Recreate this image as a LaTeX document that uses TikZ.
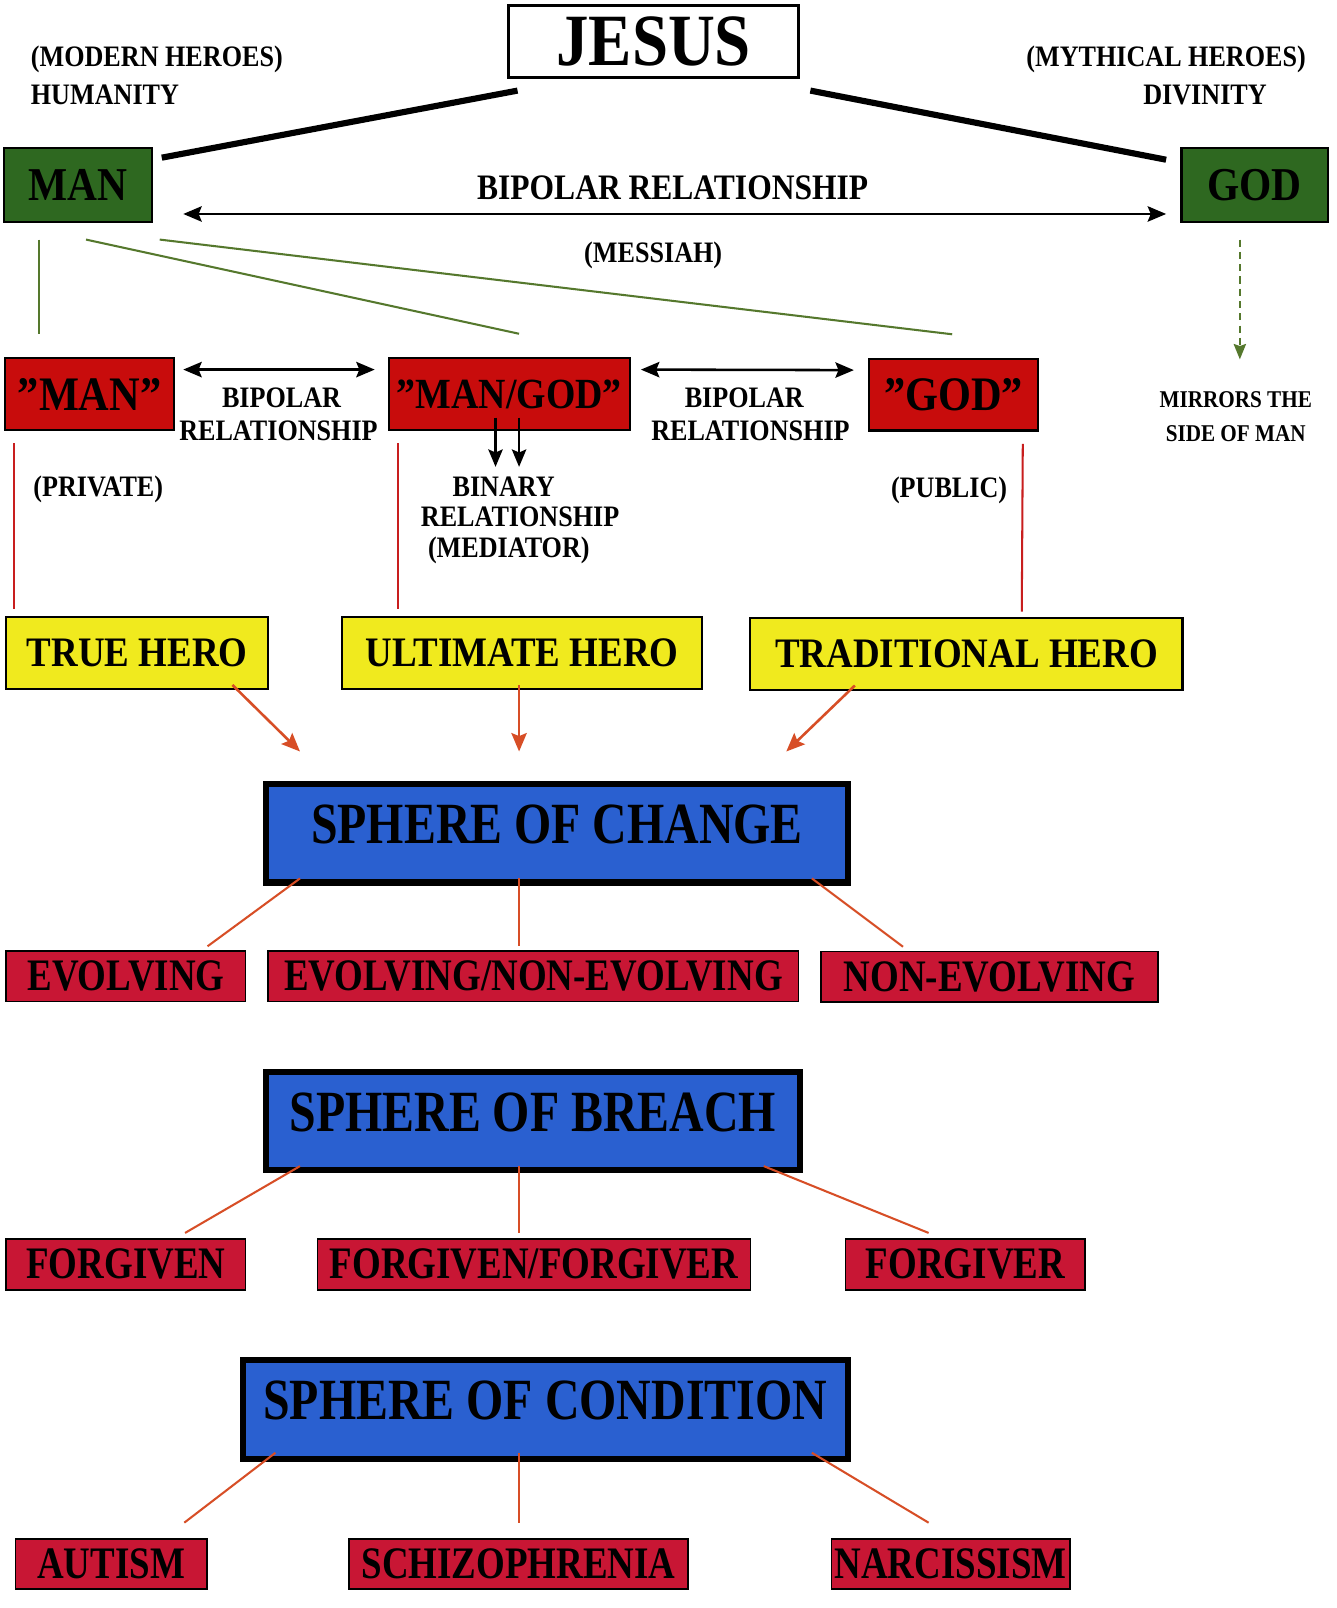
\documentclass[tikz,border=0pt]{standalone}
\usepackage{fontspec}
\setmainfont{Liberation Serif}
\newfontfamily\fS{Liberation Serif Bold}[FakeStretch=0.88]
\newfontfamily\fC{Liberation Serif Bold}[FakeStretch=0.82]
\usetikzlibrary{arrows.meta,calc}
\definecolor{mangreen}{RGB}{46,104,32}
\definecolor{boxred}{RGB}{200,12,12}
\definecolor{heroyellow}{RGB}{240,234,30}
\definecolor{sphereblue}{RGB}{42,96,208}
\definecolor{crimson}{RGB}{200,22,52}
\definecolor{linegreen}{RGB}{85,120,45}
\definecolor{linered}{RGB}{200,30,30}
\definecolor{lineorange}{RGB}{215,78,38}
\begin{document}
\begin{tikzpicture}[x=1pt,y=-1pt,
  gbox/.style={draw=black,line width=2pt,fill=mangreen,inner sep=0pt,minimum height=72pt,font=\fS\fontsize{46}{46}\selectfont},
  rbox/.style={draw=black,line width=2pt,fill=boxred,inner sep=0pt,minimum height=70pt,font=\fS\fontsize{47}{47}\selectfont},
  ybox/.style={draw=black,line width=2pt,fill=heroyellow,inner sep=0pt,minimum height=70pt,font=\fS\fontsize{41}{41}\selectfont},
  sbox/.style={draw=black,line width=6pt,fill=sphereblue,inner sep=0pt,minimum height=96pt,font=\fC\fontsize{57}{57}\selectfont,text height=40pt,text depth=20pt},
  cbox/.style={draw=black,line width=1.5pt,fill=crimson,inner sep=0pt,minimum height=49pt,font=\fC\fontsize{44}{44}\selectfont},
  lbl/.style={inner sep=0pt,anchor=base,font=\fS\fontsize{29}{29}\selectfont},
  slbl/.style={inner sep=0pt,anchor=base,font=\fS\fontsize{23.5}{23.5}\selectfont},
  blbl/.style={inner sep=0pt,anchor=base,font=\fS\fontsize{35}{35}\selectfont},
  dbl/.style={line width=2.5pt,{Stealth[length=18pt,width=15pt,inset=3pt]}-{Stealth[length=18pt,width=15pt,inset=3pt]}},
  down/.style={line width=2.5pt,-{Stealth[length=17pt,width=14pt,inset=3pt]}},
  gline/.style={draw=linegreen,line width=2pt},
  rline/.style={draw=linered,line width=2pt},
  oline/.style={draw=lineorange,line width=2pt},
  oarrow/.style={draw=lineorange,line width=2.5pt,-{Stealth[length=18pt,width=15pt,inset=3pt]}},
]
\useasboundingbox[fill=white] (0,0) rectangle (1305,1570.6);

% top
\node[draw=black,line width=3pt,fill=white,inner sep=0pt,minimum width=283pt,minimum height=71pt,font=\fS\fontsize{72}{72}\selectfont] (jesus) at (638.5,40.5) {JESUS};
\node[lbl,anchor=base west] (modern) at (30,64.6) {(MODERN HEROES)};
\node[lbl,anchor=base west] (humanity) at (30,101.6) {HUMANITY};
\node[lbl] (mythical) at (1139,64.6) {(MYTHICAL HEROES)};
\node[lbl] (divinity) at (1177,101.6) {DIVINITY};

\node[gbox,minimum width=144pt] (man) at (76,181) {MAN};
\node[gbox,minimum width=143pt] (god) at (1225.5,181) {GOD};
\node[blbl] (bipolartop) at (657,194.6) {BIPOLAR RELATIONSHIP};
\node[lbl] (messiah) at (638,256.6) {(MESSIAH)};

% second row
\node[rbox,minimum width=165pt] (rman) at (87.5,385) {”MAN”};
\node[rbox,minimum width=235pt,font=\fS\fontsize{42}{42}\selectfont] (rmangod) at (497.5,385) {”MAN/GOD”};
\node[rbox,minimum width=165pt] (rgod) at (931.5,385.5) {”GOD”};

\node[lbl] (bip1) at (275,397.6) {BIPOLAR};
\node[lbl] (rel1) at (272,430.6) {RELATIONSHIP};
\node[lbl] (bip2) at (727,397.6) {BIPOLAR};
\node[lbl] (rel2) at (733,430.6) {RELATIONSHIP};
\node[slbl] (mirrors) at (1207,397.8) {MIRRORS THE};
\node[slbl] (sideofman) at (1207,430.8) {SIDE OF MAN};

\node[lbl] (binary) at (492,484.6) {BINARY};
\node[lbl] (rel3) at (508,514.6) {RELATIONSHIP};
\node[lbl] (mediator) at (497,544.6) {(MEDIATOR)};
\node[lbl] (private) at (96,484.6) {(PRIVATE)};
\node[lbl] (public) at (927,485.6) {(PUBLIC)};

% heroes
\node[ybox,minimum width=256pt] (true) at (134,638) {TRUE HERO};
\node[ybox,minimum width=352pt] (ult) at (510,638) {ULTIMATE HERO};
\node[ybox,minimum width=422pt] (trad) at (944,638.5) {TRADITIONAL HERO};

% spheres
\node[sbox,minimum width=568pt] (soc) at (544,814) {SPHERE OF CHANGE};
\node[cbox,minimum width=234pt] (evo) at (123,953.5) {EVOLVING};
\node[cbox,minimum width=518pt] (evonon) at (521,953.5) {EVOLVING/NON-EVOLVING};
\node[cbox,minimum width=329pt] (nonevo) at (966.5,954) {NON-EVOLVING};

\node[sbox,minimum width=521pt] (sob) at (520.5,1095) {SPHERE OF BREACH};
\node[cbox,minimum width=234pt,minimum height=50pt] (forgiven) at (123,1235) {FORGIVEN};
\node[cbox,minimum width=423pt,minimum height=50pt] (ff) at (521.5,1235) {FORGIVEN/FORGIVER};
\node[cbox,minimum width=234pt,minimum height=50pt] (forgiver) at (943,1235) {FORGIVER};

\node[sbox,minimum width=591pt,minimum height=97pt] (socond) at (532.5,1376.5) {SPHERE OF CONDITION};
\node[cbox,minimum width=187pt] (autism) at (108.5,1527.5) {AUTISM};
\node[cbox,minimum width=331pt] (schizo) at (506.5,1527.5) {SCHIZOPHRENIA};
\node[cbox,minimum width=233pt] (narc) at (928.5,1527.5) {NARCISSISM};

% connectors: top
\draw[line width=6pt] ($(jesus.south west)+(10,11)$) -- ($(man.north east)+(9,10)$);
\draw[line width=6pt] ($(jesus.south east)+(10,11)$) -- ($(god.north west)+(-14,12)$);
\draw[dbl] ($(man.east)+(30,28)$) -- ($(god.west)+(-14,28)$);
\draw[draw=linegreen,line width=2pt,dash pattern=on 7pt off 5pt,-{Stealth[length=15pt,width=12pt,inset=2pt]},color=linegreen] ($(god.south)+(-14.5,16)$) -- ($(god.south)+(-14.5,133)$);
\draw[gline] ($(man.south west)+(35,16)$) -- ($(rman.north west)+(34,-23)$);
\draw[gline] ($(man.south west)+(81,16)$) -- ($(rmangod.north)+(9.5,-23)$);
\draw[gline] ($(man.south east)+(7,16)$) -- ($(rgod.north)+(-1.5,-23)$);

% second row connectors
\draw[dbl] ($(rman.north east)+(8,12)$) -- ($(rmangod.north west)+(-13,12)$);
\draw[dbl] ($(rmangod.north east)+(10,12)$) -- ($(rgod.north west)+(-14,12)$);
\draw[down] ($(rmangod.south)+(-13.5,-13)$) -- ($(rmangod.south)+(-13.5,35)$);
\draw[down] ($(rmangod.south)+(9.5,-13)$) -- ($(rmangod.south)+(9.5,35)$);
\draw[rline] ($(rman.south west)+(10,12)$) -- ($(true.north west)+(9,-7)$);
\draw[rline] ($(rmangod.south west)+(10,12)$) -- ($(ult.north west)+(56,-7)$);
\draw[rline] ($(rgod.south)+(67.5,12)$) -- ($(trad.north west)+(266,-5)$);

% heroes to sphere of change
\draw[oarrow] ($(true.south)+(93,-5)$) -- ($(soc.north west)+(36,-29)$);
\draw[oarrow] ($(ult.south)+(-3,-5)$) -- ($(soc.north)+(-37,-29)$);
\draw[oarrow] ($(trad.south)+(-109,-5)$) -- ($(soc.north)+(224,-29)$);

% sphere branches
\draw[oline] ($(soc.south west)+(36,-7)$) -- ($(evo.north east)+(-38,-4)$);
\draw[oline] ($(soc.south)+(-37,-7)$) -- ($(evonon.north)+(-14,-4)$);
\draw[oline] ($(soc.south east)+(-38,-7)$) -- ($(nonevo.north)+(-84.5,-4)$);

\draw[oline] ($(sob.south west)+(36,-7)$) -- ($(forgiven.north east)+(-60,-5)$);
\draw[oline] ($(sob.south)+(-13.5,-7)$) -- ($(ff.north)+(-14.5,-5)$);
\draw[oline] ($(sob.south east)+(-38,-7)$) -- ($(forgiver.north)+(-36,-5)$);

\draw[oline] ($(socond.south west)+(35,-9)$) -- ($(autism.north)+(71.5,-15)$);
\draw[oline] ($(socond.south)+(-25.5,-9)$) -- ($(schizo.north)+(0.5,-15)$);
\draw[oline] ($(socond.south east)+(-38,-9)$) -- ($(narc.north)+(-21.5,-15)$);
\end{tikzpicture}
\end{document}
